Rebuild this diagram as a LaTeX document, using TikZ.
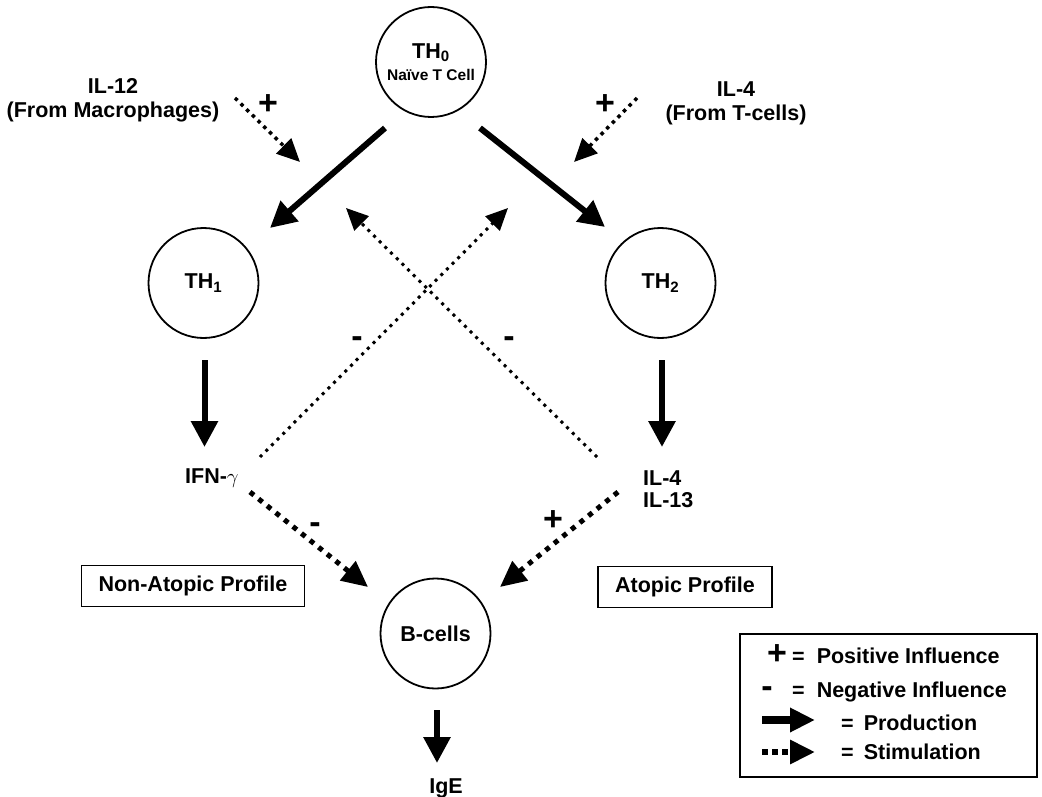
\documentclass[tikz,border=0pt]{standalone}
\usepackage{fontspec}
\setmainfont{Liberation Sans}
\usetikzlibrary{arrows.meta}
\begin{document}
\begin{tikzpicture}[x=1pt,y=-1pt,
  every node/.style={font=\bfseries\fontsize{21.5}{24}\selectfont, inner sep=0pt},
  cell/.style={circle, draw, line width=1.8pt, minimum size=110pt, align=center},
  prod/.style={line width=6pt, -{Triangle[length=26pt,width=26pt]}},
  stimthick/.style={line width=5pt, dash pattern=on 5pt off 6pt, -{Triangle[length=26pt,width=24pt]}},
  stimext/.style={line width=3.5pt, dash pattern=on 3.5pt off 4.5pt, -{Triangle[length=23pt,width=21pt]}},
  stimthin/.style={line width=3pt, dash pattern=on 3pt off 5pt, -{Triangle[length=22pt,width=20pt]}},
  sign/.style={font=\bfseries\fontsize{34}{34}\selectfont},
  profile/.style={draw, line width=1.5pt, minimum height=41pt, inner xsep=17pt},
]
\useasboundingbox (0,0) rectangle (1042,797);

% cells
\node[cell] (th0) at (431,62) {TH\textsubscript{0}\\[-2pt]{\fontsize{15.5}{17}\selectfont Naïve T Cell}};
\node[cell] (th1) at (203.5,283) {TH\textsubscript{1}};
\node[cell] (th2) at (660.5,283) {TH\textsubscript{2}};
\node[cell] (bc) at (435.5,633.5) {B-cells};

% texts
\node[align=center] (il12) at (113,100) {IL-12\\(From Macrophages)};
\node[align=center] (il4ext) at (736,103) {IL-4\\(From T-cells)};
\node[anchor=base west] (ifn) at (185,483) {IFN-$\gamma$};
\node[anchor=north west, align=left, font=\bfseries\fontsize{21.5}{22}\selectfont] (il4) at (643,471) {IL-4\\IL-13};
\node[anchor=base] (ige) at (446,793) {IgE};

% profile boxes
\node[profile, anchor=east] (nonatopic) at (305,586) {Non-Atopic Profile};
\node[profile, minimum width=174pt] (atopic) at (685,587) {Atopic Profile};

% connector end points
\coordinate (a0s) at (385,128); \coordinate (a0e) at (270,228);
\coordinate (a1s) at (480,128); \coordinate (a1e) at (605,227);
\coordinate (e1s) at (235,98);  \coordinate (e1e) at (300,162);
\coordinate (e2s) at (637,98);  \coordinate (e2e) at (574,162);
\coordinate (t1s) at (204.5,360); \coordinate (t1e) at (204.5,447);
\coordinate (t2s) at (662,360); \coordinate (t2e) at (662,447);
\coordinate (x1s) at (260,457); \coordinate (x1e) at (508,208);
\coordinate (x2s) at (597,457); \coordinate (x2e) at (346,208);
\coordinate (b1s) at (250,492); \coordinate (b1e) at (368,587);
\coordinate (b2s) at (618,492); \coordinate (b2e) at (500,587);
\coordinate (gs) at (437,710);  \coordinate (ge) at (437,763);

% arrows
\draw[prod] (a0s) -- (a0e);
\draw[prod] (a1s) -- (a1e);
\draw[stimext] (e1s) -- (e1e);
\draw[stimext] (e2s) -- (e2e);
\draw[prod] (t1s) -- (t1e);
\draw[prod] (t2s) -- (t2e);
\draw[stimthin] (x1s) -- (x1e);
\draw[stimthin] (x2s) -- (x2e);
\draw[stimthick] (b1s) -- (b1e);
\draw[stimthick] (b2s) -- (b2e);
\draw[prod] (gs) -- (ge);

% signs
\node[sign] (p1) at (268,105) {+};
\node[sign] (p2) at (605,105) {+};
\node[sign] (m1) at (357,342) {-};
\node[sign] (m2) at (509,342) {-};
\node[sign] (m3) at (315,528) {-};
\node[sign] (p3) at (553,521) {+};

% legend
\node[draw, line width=1.5pt, minimum width=297pt, minimum height=143pt, anchor=north west] (legend) at (739,633) {};
\node[sign] (lp) at (777,655) {+};
\node[anchor=base west] (lt1) at (792,663) {=\hskip 12pt Positive Influence};
\node[sign] (lm) at (767,692) {-};
\node[anchor=base west] (lt2) at (792,697) {=\hskip 12pt Negative Influence};
\coordinate (l3s) at (762,720); \coordinate (l3e) at (815,720);
\draw[line width=8pt, -{Triangle[length=25pt,width=23pt]}] (l3s) -- (l3e);
\node[anchor=base west] (lt3) at (841,730) {=\hskip 10pt Production};
\coordinate (l4s) at (762,752); \coordinate (l4e) at (815,752);
\draw[line width=6pt, dash pattern=on 6pt off 4pt, -{Triangle[length=25pt,width=23pt]}] (l4s) -- (l4e);
\node[anchor=base west] (lt4) at (841,759) {=\hskip 10pt Stimulation};
\end{tikzpicture}
\end{document}
